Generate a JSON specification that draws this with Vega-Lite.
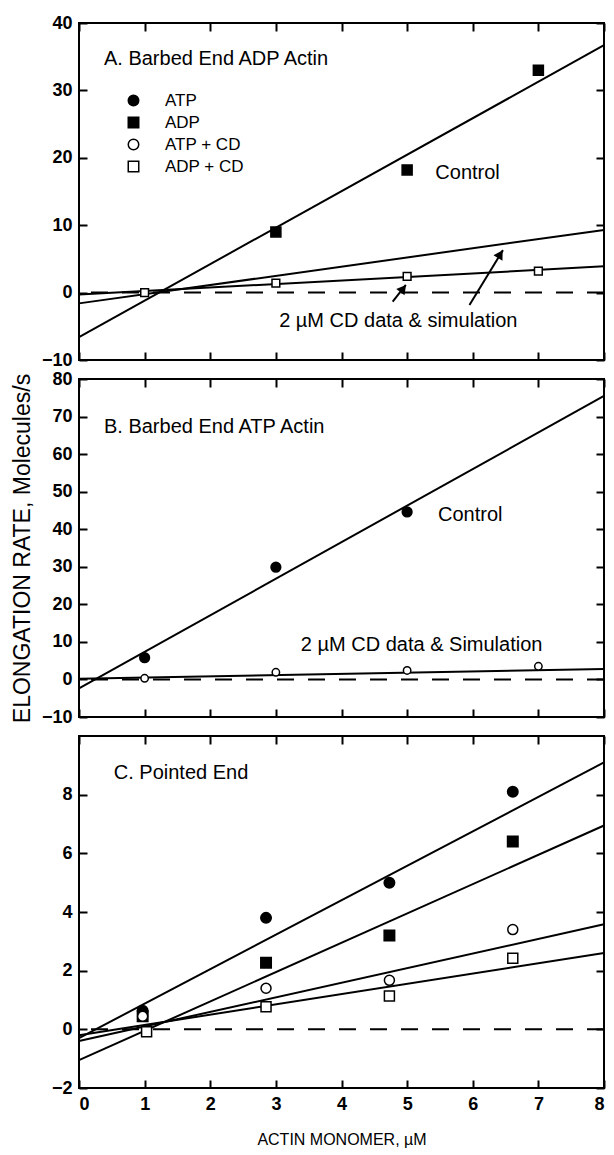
{
  "$schema": "https://vega.github.io/schema/vega-lite/v6.json",
  "background": "white",
  "padding": {"left": 10, "top": 13, "right": 5, "bottom": 5},
  "spacing": 19,
  "bounds": "flush",
  "config": {
    "view": {"stroke": "black", "strokeWidth": 2},
    "axis": {
      "domain": false,
      "grid": false,
      "ticks": true,
      "offset": -8,
      "tickSize": 8,
      "tickWidth": 2,
      "tickColor": "black",
      "zindex": 1,
      "labelFont": "Liberation Sans",
      "labelFontSize": 18,
      "labelFontWeight": "bold",
      "labelColor": "black",
      "labelPadding": 7,
      "titleFont": "Liberation Sans",
      "titleColor": "black",
      "titleFontWeight": "normal"
    },
    "legend": {
      "labelFont": "Liberation Sans",
      "labelFontSize": 17,
      "labelColor": "black",
      "labelOffset": 23,
      "symbolSize": 110,
      "symbolStrokeWidth": 1.5,
      "rowPadding": 4,
      "padding": 0
    },
    "text": {"font": "Liberation Sans", "fontSize": 20, "align": "left", "baseline": "middle", "color": "black"}
  },
  "resolve": {"scale": {"shape": "independent", "fill": "independent", "stroke": "independent"}},
  "datasets": {
    "zero": [{"v": 0}],
    "fitA": [
      {"line": "Control", "x": 0, "y": -6.6}, {"line": "Control", "x": 8, "y": 36.7},
      {"line": "Simulation", "x": 0, "y": -1.6}, {"line": "Simulation", "x": 8, "y": 9.3},
      {"line": "ADP + CD", "x": 0, "y": -0.3}, {"line": "ADP + CD", "x": 8, "y": 3.9}
    ],
    "ptsA": [
      {"series": "ADP", "x": 3, "y": 9.0}, {"series": "ADP", "x": 5, "y": 18.2}, {"series": "ADP", "x": 7, "y": 33.0},
      {"series": "ADP + CD", "x": 1, "y": 0.0}, {"series": "ADP + CD", "x": 3, "y": 1.4}, {"series": "ADP + CD", "x": 5, "y": 2.4}, {"series": "ADP + CD", "x": 7, "y": 3.2}
    ],
    "notesA": [
      {"x": 0.38, "y": 34.6, "text": "A. Barbed End ADP Actin"},
      {"x": 5.43, "y": 17.7, "text": "Control"},
      {"x": 3.05, "y": -4.2, "text": "2 µM CD data & simulation"}
    ],
    "arrowsA": [
      {"id": 1, "x": 4.78, "y": -1.35, "x2": 4.98, "y2": 1.13, "hx": 4.94, "hy": 0.6},
      {"id": 2, "x": 5.95, "y": -1.84, "x2": 6.46, "y2": 6.3, "hx": 6.42, "hy": 5.7}
    ],
    "fitB": [
      {"line": "Control", "x": 0, "y": -2.4}, {"line": "Control", "x": 8, "y": 75.5},
      {"line": "ATP + CD", "x": 0, "y": 0.2}, {"line": "ATP + CD", "x": 8, "y": 2.8}
    ],
    "ptsB": [
      {"series": "ATP", "x": 1, "y": 5.8}, {"series": "ATP", "x": 3, "y": 29.9}, {"series": "ATP", "x": 5, "y": 44.6},
      {"series": "ATP + CD", "x": 1, "y": 0.3}, {"series": "ATP + CD", "x": 3, "y": 1.9}, {"series": "ATP + CD", "x": 5, "y": 2.4}, {"series": "ATP + CD", "x": 7, "y": 3.5}
    ],
    "notesB": [
      {"x": 0.38, "y": 67.3, "text": "B. Barbed End ATP Actin"},
      {"x": 5.47, "y": 43.8, "text": "Control"},
      {"x": 3.38, "y": 9.2, "text": "2 µM CD data & Simulation"}
    ],
    "fitC": [
      {"line": "ATP", "x": 0, "y": -0.3}, {"line": "ATP", "x": 8, "y": 9.1},
      {"line": "ADP", "x": 0, "y": -1.05}, {"line": "ADP", "x": 8, "y": 6.95},
      {"line": "ATP + CD", "x": 0, "y": -0.4}, {"line": "ATP + CD", "x": 8, "y": 3.58},
      {"line": "ADP + CD", "x": 0, "y": -0.2}, {"line": "ADP + CD", "x": 8, "y": 2.6}
    ],
    "ptsC": [
      {"series": "ATP", "x": 0.97, "y": 0.63}, {"series": "ATP", "x": 2.85, "y": 3.8}, {"series": "ATP", "x": 4.73, "y": 5.0}, {"series": "ATP", "x": 6.61, "y": 8.1},
      {"series": "ADP", "x": 0.97, "y": 0.45}, {"series": "ADP", "x": 2.85, "y": 2.27}, {"series": "ADP", "x": 4.73, "y": 3.2}, {"series": "ADP", "x": 6.61, "y": 6.4},
      {"series": "ATP + CD", "x": 0.97, "y": 0.45}, {"series": "ATP + CD", "x": 2.85, "y": 1.4}, {"series": "ATP + CD", "x": 4.73, "y": 1.67}, {"series": "ATP + CD", "x": 6.61, "y": 3.4},
      {"series": "ADP + CD", "x": 1.03, "y": -0.08}, {"series": "ADP + CD", "x": 2.85, "y": 0.77}, {"series": "ADP + CD", "x": 4.73, "y": 1.14}, {"series": "ADP + CD", "x": 6.61, "y": 2.42}
    ],
    "notesC": [
      {"x": 0.53, "y": 8.74, "text": "C. Pointed End"}
    ]
  },
  "vconcat": [
    {
      "width": 525,
      "height": 337,
      "resolve": {"axis": {"x": "independent", "y": "independent"}},
      "layer": [
        {
          "data": {"name": "zero"},
          "mark": {"type": "rule", "color": "black", "strokeWidth": 2, "strokeDash": [17, 14]},
          "encoding": {"y": {"field": "v", "type": "quantitative", "axis": null}}
        },
        {
          "data": {"name": "fitA"},
          "mark": {"type": "line", "color": "black", "strokeWidth": 2},
          "encoding": {
            "x": {"field": "x", "type": "quantitative", "scale": {"domain": [0, 8], "nice": false, "zero": false},
                  "axis": {"orient": "bottom", "values": [0, 1, 2, 3, 4, 5, 6, 7, 8], "labels": false, "title": null}},
            "y": {"field": "y", "type": "quantitative", "scale": {"domain": [-10, 40], "nice": false, "zero": false},
                  "axis": {"orient": "left", "values": [-10, 0, 10, 20, 30, 40], "title": null}},
            "detail": {"field": "line"}
          }
        },
        {
          "data": {"name": "arrowsA"},
          "mark": {"type": "rule", "color": "black", "strokeWidth": 2},
          "encoding": {
            "x": {"field": "x", "type": "quantitative", "axis": null},
            "y": {"field": "y", "type": "quantitative", "axis": null},
            "x2": {"field": "x2"},
            "y2": {"field": "y2"}
          }
        },
        {
          "data": {"name": "arrowsA"},
          "transform": [{"filter": "datum.id === 1"}],
          "mark": {"type": "point", "shape": "triangle-up", "filled": true, "color": "black", "opacity": 1, "size": 110, "angle": 38},
          "encoding": {
            "x": {"field": "hx", "type": "quantitative", "axis": null},
            "y": {"field": "hy", "type": "quantitative", "axis": null}
          }
        },
        {
          "data": {"name": "arrowsA"},
          "transform": [{"filter": "datum.id === 2"}],
          "mark": {"type": "point", "shape": "triangle-up", "filled": true, "color": "black", "opacity": 1, "size": 110, "angle": 31},
          "encoding": {
            "x": {"field": "hx", "type": "quantitative", "axis": null},
            "y": {"field": "hy", "type": "quantitative", "axis": null}
          }
        },
        {
          "data": {"name": "ptsA"},
          "transform": [{"filter": "datum.series === 'ADP'"}],
          "mark": {"type": "point", "filled": true, "opacity": 1, "size": 100, "strokeWidth": 1.5},
          "encoding": {
            "x": {"field": "x", "type": "quantitative",
                  "axis": {"orient": "top", "values": [0, 1, 2, 3, 4, 5, 6, 7, 8], "labels": false, "title": null}},
            "y": {"field": "y", "type": "quantitative",
                  "axis": {"orient": "right", "values": [-10, 0, 10, 20, 30, 40], "labels": false, "title": null}},
            "shape": {"field": "series", "type": "nominal",
                      "scale": {"domain": ["ATP", "ADP", "ATP + CD", "ADP + CD"], "range": ["circle", "square", "circle", "square"]},
                      "legend": {"title": null, "orient": "none", "legendX": 46, "legendY": 69}},
            "fill": {"field": "series", "type": "nominal",
                     "scale": {"domain": ["ATP", "ADP", "ATP + CD", "ADP + CD"], "range": ["black", "black", "white", "white"]},
                     "legend": {"title": null, "orient": "none", "legendX": 46, "legendY": 69}},
            "stroke": {"field": "series", "type": "nominal",
                       "scale": {"domain": ["ATP", "ADP", "ATP + CD", "ADP + CD"], "range": ["black", "black", "black", "black"]},
                       "legend": {"title": null, "orient": "none", "legendX": 46, "legendY": 69}}
          }
        },
        {
          "data": {"name": "ptsA"},
          "transform": [{"filter": "datum.series === 'ADP + CD'"}],
          "mark": {"type": "point", "filled": true, "opacity": 1, "size": 60, "strokeWidth": 1.5},
          "encoding": {
            "x": {"field": "x", "type": "quantitative", "axis": null},
            "y": {"field": "y", "type": "quantitative", "axis": null},
            "shape": {"field": "series", "type": "nominal"},
            "fill": {"field": "series", "type": "nominal"},
            "stroke": {"field": "series", "type": "nominal"}
          }
        },
        {
          "data": {"name": "notesA"},
          "mark": {"type": "text"},
          "encoding": {
            "x": {"field": "x", "type": "quantitative", "axis": null},
            "y": {"field": "y", "type": "quantitative", "axis": null},
            "text": {"field": "text"}
          }
        }
      ]
    },
    {
      "width": 525,
      "height": 338,
      "resolve": {"axis": {"x": "independent", "y": "independent"}},
      "layer": [
        {
          "data": {"name": "zero"},
          "mark": {"type": "rule", "color": "black", "strokeWidth": 2, "strokeDash": [17, 14]},
          "encoding": {"y": {"field": "v", "type": "quantitative", "axis": null}}
        },
        {
          "data": {"name": "fitB"},
          "mark": {"type": "line", "color": "black", "strokeWidth": 2},
          "encoding": {
            "x": {"field": "x", "type": "quantitative", "scale": {"domain": [0, 8], "nice": false, "zero": false},
                  "axis": {"orient": "bottom", "values": [0, 1, 2, 3, 4, 5, 6, 7, 8], "labels": false, "title": null}},
            "y": {"field": "y", "type": "quantitative", "scale": {"domain": [-10, 80], "nice": false, "zero": false},
                  "axis": {"orient": "left", "values": [-10, 0, 10, 20, 30, 40, 50, 60, 70, 80],
                           "title": "ELONGATION RATE, Molecules/s", "titleFontSize": 23, "titlePadding": 7}},
            "detail": {"field": "line"}
          }
        },
        {
          "data": {"name": "ptsB"},
          "transform": [{"filter": "datum.series === 'ATP'"}],
          "mark": {"type": "point", "filled": true, "opacity": 1, "size": 95, "strokeWidth": 1.5},
          "encoding": {
            "x": {"field": "x", "type": "quantitative",
                  "axis": {"orient": "top", "values": [0, 1, 2, 3, 4, 5, 6, 7, 8], "labels": false, "title": null}},
            "y": {"field": "y", "type": "quantitative",
                  "axis": {"orient": "right", "values": [-10, 0, 10, 20, 30, 40, 50, 60, 70, 80], "labels": false, "title": null}},
            "shape": {"field": "series", "type": "nominal",
                      "scale": {"domain": ["ATP", "ADP", "ATP + CD", "ADP + CD"], "range": ["circle", "square", "circle", "square"]}, "legend": null},
            "fill": {"field": "series", "type": "nominal",
                     "scale": {"domain": ["ATP", "ADP", "ATP + CD", "ADP + CD"], "range": ["black", "black", "white", "white"]}, "legend": null},
            "stroke": {"field": "series", "type": "nominal",
                       "scale": {"domain": ["ATP", "ADP", "ATP + CD", "ADP + CD"], "range": ["black", "black", "black", "black"]}, "legend": null}
          }
        },
        {
          "data": {"name": "ptsB"},
          "transform": [{"filter": "datum.series === 'ATP + CD'"}],
          "mark": {"type": "point", "filled": true, "opacity": 1, "size": 55, "strokeWidth": 1.5},
          "encoding": {
            "x": {"field": "x", "type": "quantitative", "axis": null},
            "y": {"field": "y", "type": "quantitative", "axis": null},
            "shape": {"field": "series", "type": "nominal", "legend": null},
            "fill": {"field": "series", "type": "nominal", "legend": null},
            "stroke": {"field": "series", "type": "nominal", "legend": null}
          }
        },
        {
          "data": {"name": "notesB"},
          "mark": {"type": "text"},
          "encoding": {
            "x": {"field": "x", "type": "quantitative", "axis": null},
            "y": {"field": "y", "type": "quantitative", "axis": null},
            "text": {"field": "text"}
          }
        }
      ]
    },
    {
      "width": 525,
      "height": 352,
      "resolve": {"axis": {"x": "independent", "y": "independent"}},
      "layer": [
        {
          "data": {"name": "zero"},
          "mark": {"type": "rule", "color": "black", "strokeWidth": 2, "strokeDash": [17, 14]},
          "encoding": {"y": {"field": "v", "type": "quantitative", "axis": null}}
        },
        {
          "data": {"name": "fitC"},
          "mark": {"type": "line", "color": "black", "strokeWidth": 2},
          "encoding": {
            "x": {"field": "x", "type": "quantitative", "scale": {"domain": [0, 8], "nice": false, "zero": false},
                  "axis": {"orient": "bottom", "values": [0, 1, 2, 3, 4, 5, 6, 7, 8],
                           "title": "ACTIN  MONOMER, µM", "titleFontSize": 16, "titlePadding": 18}},
            "y": {"field": "y", "type": "quantitative", "scale": {"domain": [-2, 10], "nice": false, "zero": false},
                  "axis": {"orient": "left", "values": [-2, 0, 2, 4, 6, 8], "title": null}},
            "detail": {"field": "line"}
          }
        },
        {
          "data": {"name": "ptsC"},
          "transform": [{"filter": "datum.series === 'ATP' || datum.series === 'ADP'"}],
          "mark": {"type": "point", "filled": true, "opacity": 1, "size": 110, "strokeWidth": 1.5},
          "encoding": {
            "x": {"field": "x", "type": "quantitative",
                  "axis": {"orient": "top", "values": [0, 1, 2, 3, 4, 5, 6, 7, 8], "labels": false, "title": null}},
            "y": {"field": "y", "type": "quantitative",
                  "axis": {"orient": "right", "values": [-2, 0, 2, 4, 6, 8], "labels": false, "title": null}},
            "shape": {"field": "series", "type": "nominal",
                      "scale": {"domain": ["ATP", "ADP", "ATP + CD", "ADP + CD"], "range": ["circle", "square", "circle", "square"]}, "legend": null},
            "fill": {"field": "series", "type": "nominal",
                     "scale": {"domain": ["ATP", "ADP", "ATP + CD", "ADP + CD"], "range": ["black", "black", "white", "white"]}, "legend": null},
            "stroke": {"field": "series", "type": "nominal",
                       "scale": {"domain": ["ATP", "ADP", "ATP + CD", "ADP + CD"], "range": ["black", "black", "black", "black"]}, "legend": null}
          }
        },
        {
          "data": {"name": "ptsC"},
          "transform": [{"filter": "datum.series === 'ATP + CD' || datum.series === 'ADP + CD'"}],
          "mark": {"type": "point", "filled": true, "opacity": 1, "size": 100, "strokeWidth": 1.5},
          "encoding": {
            "x": {"field": "x", "type": "quantitative", "axis": null},
            "y": {"field": "y", "type": "quantitative", "axis": null},
            "shape": {"field": "series", "type": "nominal", "legend": null},
            "fill": {"field": "series", "type": "nominal", "legend": null},
            "stroke": {"field": "series", "type": "nominal", "legend": null}
          }
        },
        {
          "data": {"name": "notesC"},
          "mark": {"type": "text"},
          "encoding": {
            "x": {"field": "x", "type": "quantitative", "axis": null},
            "y": {"field": "y", "type": "quantitative", "axis": null},
            "text": {"field": "text"}
          }
        }
      ]
    }
  ]
}
